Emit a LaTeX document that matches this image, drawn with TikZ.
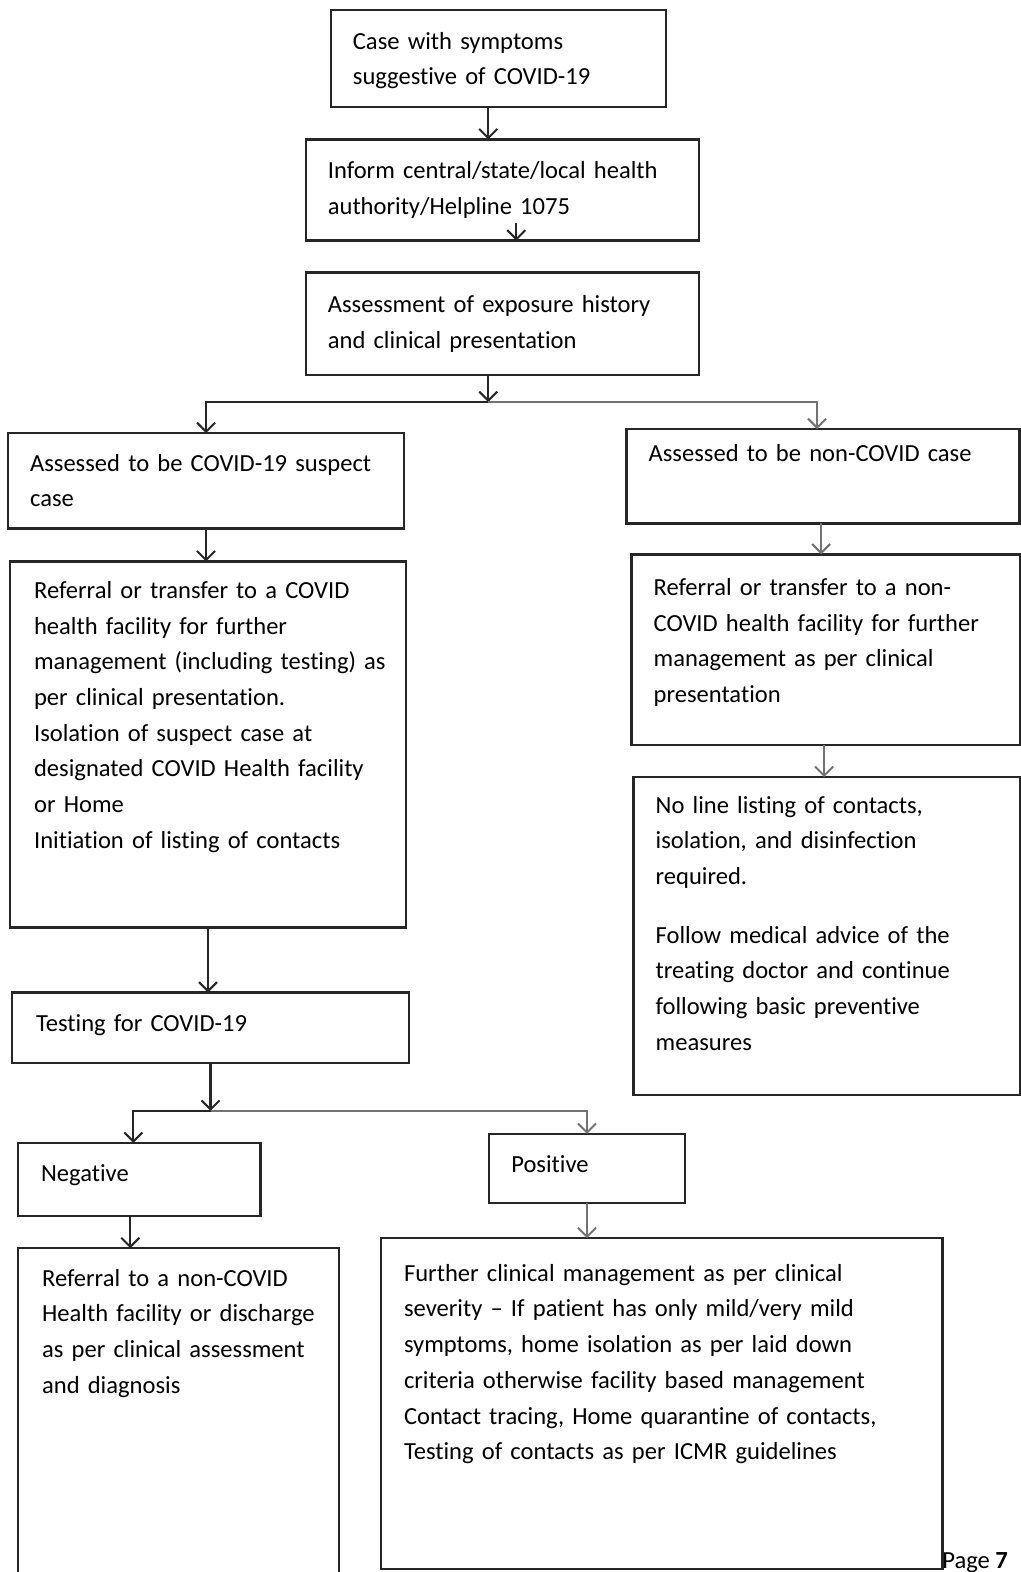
\documentclass[tikz,border=0pt]{standalone}
\usepackage{fontspec}
\setmainfont{Carlito}[Ligatures={NoCommon}]
\usetikzlibrary{arrows.meta}
\newcommand\bodyfnt{\fontsize{24.5pt}{35.6pt}\selectfont}
\begin{document}
\begin{tikzpicture}[x=1pt,y=-1pt,
  box/.style={draw=black!85,line width=2.4pt,rectangle,inner sep=0pt,outer sep=0pt,anchor=north west},
  txt/.style={anchor=base west,inner sep=0pt,outer sep=0pt,align=left,font=\bodyfnt},
  arr/.style={draw=black!85,line width=2.2pt,-{Straight Barb[length=9pt,width=18pt,line width=2pt]}},
  arrl/.style={arr,draw=black!55},
  lnk/.style={draw=black!85,line width=2.2pt}]
\useasboundingbox (0,0) rectangle (1018,1568);
% boxes
\node[box,minimum width=334,minimum height=97] (b1) at (330,10) {};
\node[box,minimum width=392,minimum height=101] (b2) at (305,139) {};
\node[box,minimum width=392,minimum height=102] (b3) at (305,272) {};
\node[box,minimum width=395,minimum height=95] (b4) at (8,432) {};
\node[box,minimum width=392,minimum height=94] (b5) at (625,428) {};
\node[box,minimum width=395,minimum height=365] (b6) at (10,560) {};
\node[box,minimum width=388,minimum height=190] (b7) at (630,553) {};
\node[box,minimum width=386,minimum height=317] (b9) at (632,775) {};
\node[box,minimum width=396,minimum height=70] (b8) at (12,990) {};
\node[box,minimum width=242,minimum height=73] (neg) at (18,1140) {};
\node[box,minimum width=195,minimum height=69] (pos) at (488,1131) {};
\node[box,minimum width=320,minimum height=340] (b12) at (18,1245) {};
\node[box,minimum width=560,minimum height=330] (b13) at (380,1235) {};
% texts
\node[txt,text width=310] (t1) at (352,49) {Case with symptoms\\suggestive of COVID-19};
\node[txt,text width=365] (t2) at (327,178) {Inform central/state/local health\\authority/Helpline 1075};
\node[txt,text width=365] (t3) at (327,312) {Assessment of exposure history\\and clinical presentation};
\node[txt,text width=370] (t4) at (30,470) {Assessed to be COVID-19 suspect\\case};
\node[txt,text width=365] (t5) at (647,460) {Assessed to be non-COVID case};
\node[txt,text width=368] (t6) at (34,597) {Referral or transfer to a COVID\\health facility for further\\management (including testing) as\\per clinical presentation.\\Isolation of suspect case at\\designated COVID Health facility\\or Home\\Initiation of listing of contacts};
\node[txt,text width=362] (t7) at (652,594) {Referral or transfer to a non-\\COVID health facility for further\\management as per clinical\\presentation};
\node[txt,text width=360] (t9) at (654,811) {No line listing of contacts,\\isolation, and disinfection\\required.\\[23pt]Follow medical advice of the\\treating doctor and continue\\following basic preventive\\measures};
\node[txt,text width=360] (t8) at (36,1029) {Testing for COVID-19};
\node[txt,text width=200] (tn) at (41,1178) {Negative};
\node[txt,text width=160] (tp) at (510,1170) {Positive};
\node[txt,text width=294] (t12) at (42,1283) {Referral to a non-COVID\\Health facility or discharge\\as per clinical assessment\\and diagnosis};
\node[txt,text width=532] (t13) at (403,1278) {Further clinical management as per clinical\\severity \textendash{} If patient has only mild/very mild\\symptoms, home isolation as per laid down\\criteria otherwise facility based management\\Contact tracing, Home quarantine of contacts,\\Testing of contacts as per ICMR guidelines};
\node[txt] (pg) at (940,1564) {Page \textbf{7}};
% connectors
\draw[arr] ([xshift=-10pt]b1.south) -- ([xshift=-14pt]b2.north);
\coordinate (m2) at ([xshift=14pt,yshift=18pt]b2.south);
\draw[arr] (m2) -- ([xshift=14pt]b2.south);
\coordinate (s1) at (487,401);
\draw[arr] ([xshift=-14pt]b3.south) -- (s1);
\draw[arr] (s1) -| (b4.north);
\draw[arrl] (s1) -| ([xshift=-6pt]b5.north);
\draw[arr] (b4.south) -- (b6.north -| b4.south);
\draw[arrl] ([xshift=-2pt]b5.south) -- ([xshift=-2pt]b5.south |- b7.north);
\draw[arrl] ([xshift=-2pt]b7.south) -- ([xshift=-2pt]b7.south |- b9.north);
\draw[arr] (b6.south) -- (b6.south |- b8.north);
\coordinate (s2) at (210,1108);
\draw[arr] (b8.south) -- (s2);
\draw[arr] (s2) -| ([xshift=-6pt]neg.north);
\draw[arrl] (s2) -| (pos.north);
\draw[arr] ([xshift=-9pt]neg.south) -- ([xshift=-9pt]neg.south |- b12.north);
\draw[arrl] (pos.south) -- (pos.south |- b13.north);
\end{tikzpicture}
\end{document}
